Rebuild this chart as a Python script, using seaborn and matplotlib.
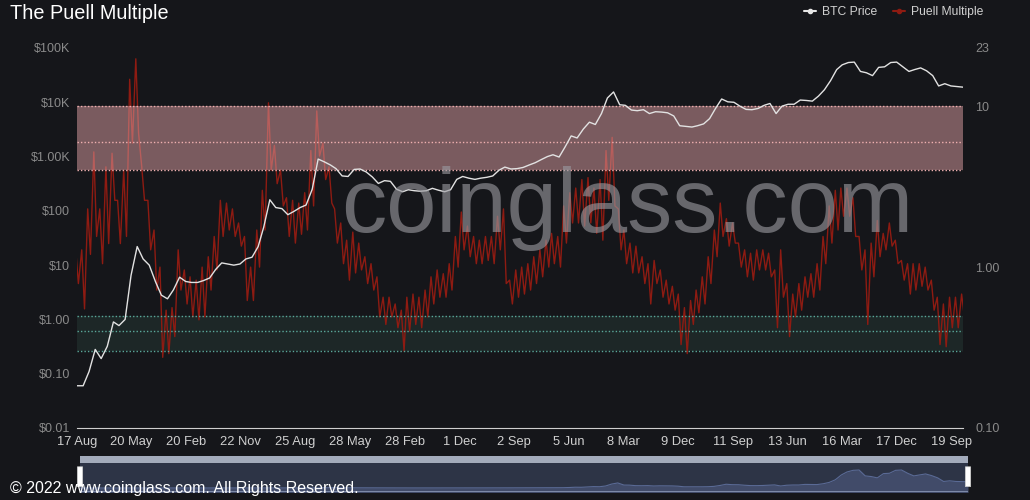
import numpy as np
import pandas as pd
import seaborn as sns
import matplotlib.pyplot as plt
from matplotlib.lines import Line2D
from matplotlib.patches import Rectangle, FancyBboxPatch

# monthly samples, Aug 2010 .. Nov 2022
btc_price = [
    0.06, 0.06, 0.11, 0.28, 0.19, 0.32, 0.9, 0.77, 1.0, 6.5,
    22, 13, 10, 5, 2.8, 2.4, 3.5, 6, 5, 4.8,
    4.8, 5.2, 5.8, 8.3, 11, 10.5, 10, 10.5, 13, 14,
    22, 50, 160, 115, 110, 85, 98, 115, 128, 250,
    900, 800, 700, 600, 440, 430, 580, 590, 520, 420,
    320, 360, 350, 250, 225, 245, 235, 230, 235, 260,
    240, 225, 245, 380, 430, 400, 380, 400, 415, 440,
    560, 640, 590, 600, 630, 700, 770, 880, 1000, 1080,
    980, 1500, 2400, 2200, 3200, 4300, 3900, 6200, 12000, 15500,
    9000, 8800, 7200, 7000, 7300, 6200, 6700, 6600, 6400, 5600,
    3700, 3600, 3500, 3700, 4000, 5000, 7800, 11500, 10200, 10000,
    8500, 7400, 7300, 7700, 8800, 9500, 6200, 8500, 9200, 9200,
    11000, 10800, 10500, 13000, 17000, 25000, 40000, 49000, 54000, 55000,
    37000, 35000, 31000, 44000, 45000, 54000, 55000, 45000, 37000, 40000,
    43000, 38000, 31000, 20000, 22000, 20000, 19500, 19000,
]

# monthly high / low of the Puell Multiple
puell_hi = [
    1.3, 1.28, 2.3, 5.2, 2.3, 4.2, 5.1, 2.6, 4.0, 14.7,
    19.7, 4.2, 2.6, 1.7, 1.0, 0.54, 0.56, 1.28, 0.96, 0.87,
    0.83, 1.0, 1.16, 1.55, 2.6, 2.5, 2.3, 1.88, 1.55, 1.0,
    1.7, 3.0, 10.5, 5.7, 4.0, 2.7, 2.6, 2.5, 2.9, 5.3,
    9.35, 5.9, 4.2, 2.3, 1.88, 1.47, 1.65, 1.41, 1.16, 1.05,
    0.87, 0.65, 0.65, 0.59, 0.54, 0.65, 0.68, 0.65, 0.72, 0.87,
    0.96, 0.91, 1.05, 1.55, 2.2, 1.8, 1.55, 1.47, 1.55, 1.55,
    2.07, 2.3, 0.83, 0.96, 1.0, 1.05, 1.16, 1.28, 1.47, 1.62,
    1.55, 2.4, 2.9, 3.1, 3.5, 3.6, 3.1, 3.5, 5.3, 6.4,
    2.3, 1.7, 1.41, 1.35, 1.16, 1.05, 1.1, 0.96, 0.83, 0.76,
    0.68, 0.56, 0.62, 0.72, 0.87, 1.16, 1.7, 2.5, 2.0, 1.88,
    1.41, 1.28, 1.22, 1.28, 1.28, 1.22, 0.96, 1.28, 0.79, 0.68,
    0.79, 0.87, 0.91, 1.05, 1.55, 2.4, 3.0, 3.1, 3.1, 2.7,
    1.55, 1.28, 1.41, 1.95, 1.62, 1.88, 1.47, 1.1, 1.05, 1.05,
    1.05, 1.0, 0.83, 0.65, 0.59, 0.65, 0.65, 0.68,
]
puell_lo = [
    0.79, 0.55, 1.2, 1.55, 1.05, 1.4, 2.6, 1.4, 1.55, 5.9,
    6.8, 2.6, 1.28, 0.72, 0.275, 0.29, 0.37, 0.72, 0.59, 0.49,
    0.47, 0.49, 0.72, 0.96, 1.55, 1.7, 1.55, 1.35, 0.62, 0.62,
    1.0, 1.7, 4.0, 3.3, 2.4, 1.55, 1.41, 1.6, 1.7, 2.4,
    4.9, 3.5, 2.5, 1.41, 1.05, 0.83, 0.92, 0.96, 0.79, 0.72,
    0.49, 0.44, 0.49, 0.42, 0.30, 0.40, 0.44, 0.42, 0.49, 0.59,
    0.65, 0.65, 0.72, 1.0, 1.28, 1.16, 1.05, 1.05, 1.1, 1.05,
    1.28, 0.79, 0.59, 0.65, 0.68, 0.72, 0.79, 0.87, 1.0, 1.05,
    1.0, 1.41, 1.88, 1.88, 1.8, 1.88, 1.62, 1.47, 2.6, 2.4,
    1.28, 1.05, 0.92, 0.92, 0.79, 0.59, 0.79, 0.65, 0.59, 0.54,
    0.33, 0.29, 0.44, 0.52, 0.59, 0.79, 1.16, 1.55, 1.35, 1.41,
    1.0, 0.87, 0.83, 0.96, 0.96, 0.87, 0.42, 0.65, 0.37, 0.49,
    0.54, 0.65, 0.65, 0.72, 1.05, 1.41, 1.7, 2.07, 2.07, 1.55,
    0.96, 0.44, 0.87, 1.16, 1.28, 1.35, 1.05, 0.83, 0.68, 0.72,
    0.76, 0.72, 0.54, 0.33, 0.32, 0.42, 0.42, 0.49,
]

left_ticks = [0.01, 0.1, 1, 10, 100, 1000, 10000, 100000]
left_labels = ["$0.01", "$0.10", "$1.00", "$10", "$100", "$1.00K", "$10K", "$100K"]
right_ticks = [0.1, 1, 10, 23]
right_labels = ["0.10", "1.00", "10", "23"]
tick_start = "2010-08-17"
tick_step_days = 276
n_ticks = 17

months = pd.period_range("2010-08", "2022-11", freq="M").to_timestamp() + pd.Timedelta(days=16)
btc = pd.DataFrame({"date": months, "price": btc_price})
puell = pd.concat([
    pd.DataFrame({"date": months - pd.Timedelta(days=7), "v": puell_hi}),
    pd.DataFrame({"date": months + pd.Timedelta(days=7), "v": puell_lo}),
]).sort_values("date")

bg = "#15161a"
sns.set_style("dark", {"axes.facecolor": bg, "figure.facecolor": bg})
plt.rcParams["font.family"] = ["Liberation Sans", "DejaVu Sans"]

fig = plt.figure(figsize=(10.3, 5), dpi=100)
ax = fig.add_axes([77 / 1030, 1 - 428 / 500, 886 / 1030, 380 / 500])
ax.set_facecolor(bg)

# Puell on the primary axes (right scale), bands around it
sns.lineplot(data=puell, x="date", y="v", ax=ax, color="#8e1b12", lw=1.0, zorder=2)
ax.set_yscale("log")
ax.set_ylim(0.1, 23)
ax.axhspan(0.3, 0.5, color="#1d2727", lw=0, zorder=1)
ax.axhspan(4, 10, color="#e0a0a4", alpha=0.5, lw=0, zorder=3)
for v in (4, 6, 10):
    ax.axhline(v, color="#f0b0b0", lw=1, ls=(0, (1, 1.5)), zorder=3)
for v in (0.3, 0.4, 0.5):
    ax.axhline(v, color="#5aa89a", lw=1, ls=(0, (1, 1.5)), zorder=3)

ax2 = ax.twinx()
sns.lineplot(data=btc, x="date", y="price", ax=ax2, color="#e2e2e2", lw=1, zorder=4)
ax2.set_yscale("log")
ax2.set_ylim(0.01, 1e5)

ax.yaxis.tick_right()
ax2.yaxis.tick_left()
ax.set_yticks(right_ticks)
ax.set_yticklabels(right_labels)
ax.yaxis.set_minor_locator(plt.NullLocator())
ax2.set_yticks(left_ticks)
ax2.set_yticklabels(left_labels)
ax2.yaxis.set_minor_locator(plt.NullLocator())

ticks = pd.date_range(tick_start, periods=n_ticks, freq=f"{tick_step_days}D")
ax.set_xlim(pd.Timestamp(tick_start), months[-1])
ax.set_xticks(ticks)
ax.set_xticklabels([f"{d.day} {d.strftime('%b')}" for d in ticks])

for a in (ax, ax2):
    a.set_xlabel("")
    a.set_ylabel("")
    for s in a.spines.values():
        s.set_visible(False)
    a.grid(False)
ax.tick_params(axis="x", length=0, pad=6, labelsize=9.3, labelcolor="#d0d0d0")
ax.tick_params(axis="y", length=0, pad=9, labelsize=9, labelcolor="#8a8a8a")
ax2.tick_params(axis="y", length=0, pad=5, labelsize=9, labelcolor="#8a8a8a")
ax.spines["bottom"].set_visible(True)
ax.spines["bottom"].set_color("#cfcfcf")

ax2.text(0.621, 0.516, "coinglass.com", transform=ax2.transAxes, ha="center", va="baseline",
         fontsize=65, color="#9a9aa0", alpha=0.62, zorder=10)

fig.text(10 / 1030, 1 - 19 / 500, "The Puell Multiple", color="white", fontsize=14.3, va="baseline")

handles = [
    Line2D([], [], color="#e6e6e6", lw=1.5, marker="o", markersize=3),
    Line2D([], [], color="#8e1b12", lw=1.5, marker="o", markersize=3),
]
fig.legend(handles, ["BTC Price", "Puell Multiple"], loc="upper right", bbox_to_anchor=(988 / 1030, 1 - 1 / 500),
           ncol=2, frameon=False, fontsize=8.7, labelcolor="#d0d0d0", handlelength=1.0,
           handletextpad=0.5, columnspacing=1.3, borderaxespad=0)

# data zoom slider
sl = fig.add_axes([80 / 1030, 1 - 492 / 500, 888 / 1030, 36 / 500])
sl.set_facecolor("#2d3446")
sns.lineplot(data=btc, x="date", y="price", ax=sl, color="#5a6a95", lw=0.8)
sl.fill_between(btc["date"], btc["price"], -20000, color="#414b69", lw=0)
sl.set_xlim(pd.Timestamp(tick_start), months[-1])
sl.set_ylim(-12200, 97800)
sl.set_xticks([])
sl.set_yticks([])
sl.set_xlabel("")
sl.set_ylabel("")
for s in sl.spines.values():
    s.set_visible(False)
sl.add_patch(Rectangle((0, 1 - 7 / 36), 1, 7 / 36, transform=sl.transAxes, color="#a3abbb", lw=0, zorder=5))
sl.add_patch(Rectangle((0, 0), 1, 1.5 / 36, transform=sl.transAxes, color="#7d8aa8", lw=0, zorder=5))
for x0 in (0, 1):
    sl.add_patch(FancyBboxPatch((x0 - 0.003, 0.15), 0.006, 0.55, boxstyle="round,pad=0,rounding_size=0.002",
                                transform=sl.transAxes, fc="white", ec="#cccccc", lw=0.5,
                                clip_on=False, zorder=6))

fig.text(10 / 1030, 1 - 493 / 500, "\u00a9 2022 www.coinglass.com. All Rights Reserved.",
         color="white", fontsize=11.5, va="baseline")

fig.savefig("out.png", dpi=100, facecolor=bg)
